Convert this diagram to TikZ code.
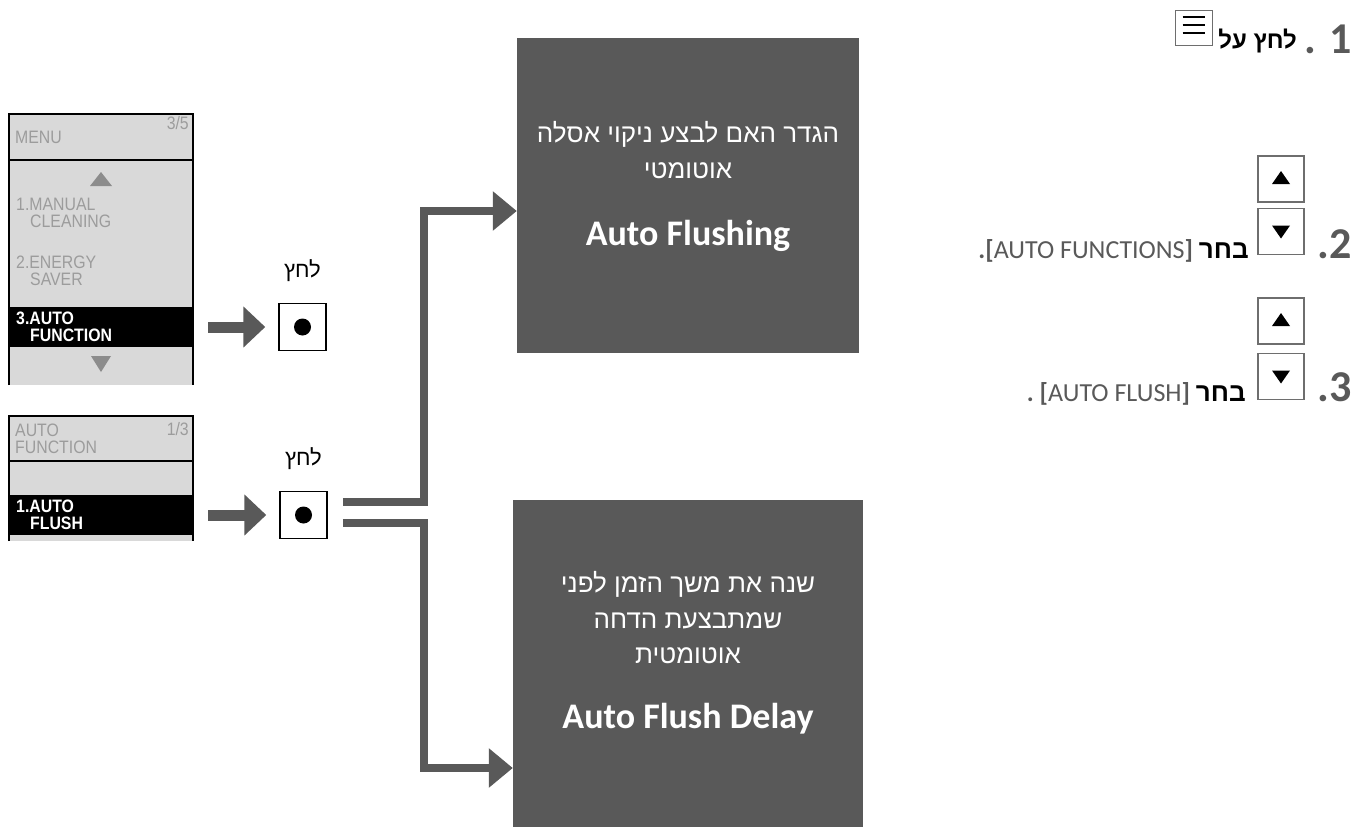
\documentclass[tikz,border=0pt]{standalone}
\usepackage{fontspec}
\setmainfont{Carlito}
\newfontfamily\hebfont[Script=Hebrew]{Liberation Sans}
\newfontfamily\lcdfont[FakeStretch=0.88]{Liberation Sans}
\TeXXeTstate=1
\usetikzlibrary{arrows.meta,positioning}
\definecolor{boxgray}{HTML}{595959}
\definecolor{lcdgray}{HTML}{D9D9D9}
\definecolor{dimtext}{HTML}{9C9C9C}
\definecolor{trigray}{HTML}{8C8C8C}
\definecolor{keygray}{HTML}{6E6E6E}

\begin{document}
\begin{tikzpicture}[x=1pt, y=-1pt,
    lcdtxt/.style={font=\lcdfont\fontsize{18}{16.5}\selectfont, text=dimtext, inner sep=0, anchor=west, align=left},
    seltxt/.style={lcdtxt, font=\lcdfont\bfseries\fontsize{18}{16.5}\selectfont, text=white},
    selbar/.style={fill=black, inner sep=0, minimum width=184, minimum height=40},
    pushbtn/.style={draw, line width=1.5pt, minimum size=47, inner sep=0},
    presslbl/.style={font=\hebfont\fontsize{22}{22}\selectfont},
    gofwd/.style={draw=boxgray, line width=11pt, -{Triangle[length=22pt,width=40pt]}},
    flow/.style={draw=boxgray, line width=8pt, miter limit=10, -{Triangle[length=24pt,width=38pt]}},
    infobox/.style={fill=boxgray, inner sep=0},
    heline/.style={font=\hebfont\fontsize{26}{26}\selectfont, text=white, anchor=base},
    titleline/.style={font=\bfseries\fontsize{36}{36}\selectfont, text=white, anchor=base},
    stepnum/.style={font=\bfseries\fontsize{44}{44}\selectfont, text=boxgray, anchor=base east, inner sep=0},
    steptxt/.style={font=\fontsize{26}{26}\selectfont, text=boxgray, anchor=base east, inner sep=0},
    keybox/.style={draw=keygray, line width=1.2pt, minimum width=46, minimum height=46, inner sep=0}]
\useasboundingbox (0,0) rectangle (1364,827);

% first screen: MENU 3/5
\fill[lcdgray] (9,114) rectangle (193,385);
\draw[line width=1.5pt] (9,385) -- (9,114) -- (193,114) -- (193,385);
\draw[line width=2pt] (9,160) -- (193,160);
\node[lcdtxt] (menuA) at (15,137) {MENU};
\node[lcdtxt, anchor=east] (pageA) at (189,123) {3/5};
\fill[trigray] (90,186) -- (112,186) -- (101,172) -- cycle;
\node[lcdtxt] (itemA) at (16,213) {1.MANUAL\\\hspace*{14pt}CLEANING};
\node[lcdtxt] (itemB) at (16,271) {2.ENERGY\\\hspace*{14pt}SAVER};
\node[selbar] (selA) at (101,327) {};
\node[seltxt] (itemC) at (16,327) {3.AUTO\\\hspace*{14pt}FUNCTION};
\fill[trigray] (91,356) -- (111,356) -- (101,372) -- cycle;

% second screen: AUTO FUNCTION 1/3
\fill[lcdgray] (9,416) rectangle (193,541);
\draw[line width=1.5pt] (9,541) -- (9,416) -- (193,416) -- (193,541);
\draw[line width=2pt] (9,461) -- (193,461);
\node[lcdtxt] (menuB) at (15,439) {AUTO\\FUNCTION};
\node[lcdtxt, anchor=east] (pageB) at (189,429) {1/3};
\node[selbar] (selB) at (101,515) {};
\node[seltxt] (itemD) at (16,515) {1.AUTO\\\hspace*{14pt}FLUSH};

% push buttons
\node[pushbtn] (btnA) at (302.5,327) {};
\node[pushbtn] (btnB) at (303.5,515) {};
\fill (btnA) circle (8.5);
\fill (btnB) circle (8.5);
\node[presslbl, above=18pt of btnA] (pressA) {\beginR לחץ\endR};
\node[presslbl, above=18pt of btnB] (pressB) {\beginR לחץ\endR};
\draw[gofwd, shorten >=13pt] ([xshift=15pt]selA.east) -- (btnA.west);
\draw[gofwd, shorten >=13pt] ([xshift=15pt]selB.east) -- (btnB.west);

% result boxes
\node[infobox, minimum width=342, minimum height=315] (boxA) at (688,195.5) {};
\node[infobox, minimum width=350, minimum height=327] (boxB) at (688,663.5) {};
\node[heline] at (688,142) {\beginR הגדר האם לבצע ניקוי אסלה\endR};
\node[heline] at (688,178) {\beginR אוטומטי\endR};
\node[titleline] at (688,245) {Auto Flushing};
\node[heline] at (688,592) {\beginR שנה את משך הזמן לפני\endR};
\node[heline] at (688,628) {\beginR שמתבצעת הדחה\endR};
\node[heline] at (688,663) {\beginR אוטומטית\endR};
\node[titleline] at (688,728) {Auto Flush Delay};

\draw[flow] ([shift={(15,-13)}]btnB.east) -- ++(81,0) |- ([yshift=-15.5pt]boxA.west);
\draw[flow] ([shift={(15,8)}]btnB.east) -- ++(81,0) |- ([yshift=-104.5pt]boxB.west);

% steps on the right
\node[stepnum] (numA) at (1352,53) {. 1};
\node[font=\hebfont\bfseries\fontsize{24}{24}\selectfont, anchor=base east, inner sep=0] (stepA) at (1297,48) {\beginR לחץ על\endR};
\node[draw=keygray, line width=1pt, minimum width=37, minimum height=35, inner sep=0] (menuKey) at (1193.5,27.5) {};
\foreach \dy in {-10.5,-2.5,5.5}
    \draw[line width=2pt] ([shift={(-11,\dy)}]menuKey.center) -- ++(22,0);

\node[keybox] (upA) at (1281,179) {};
\node[keybox] (downA) at (1281,231.5) {};
\node[keybox] (upB) at (1281,321) {};
\node[keybox] (downB) at (1281,376.5) {};
\foreach \k in {upA,upB}
    \fill (\k.center) ++(-9,5) -- ++(18,0) -- ++(-9,-13) -- cycle;
\foreach \k in {downA,downB}
    \fill (\k.center) ++(-9,-6) -- ++(18,0) -- ++(-9,13) -- cycle;
\node[stepnum] (numB) at (1352,258) {.2};
\node[stepnum] (numC) at (1352,401) {.3};
\node[steptxt] (stepB) at (1249,258) {\beginR{\hebfont\bfseries\color{black}בחר} \beginL{\bfseries[}AUTO FUNCTIONS{\bfseries]}\endL{\bfseries.}\endR};
\node[steptxt] (stepC) at (1246,401) {\beginR{\hebfont\bfseries\color{black}בחר} \beginL{\bfseries[}AUTO FLUSH{\bfseries]}\endL\ {\bfseries.}\endR};
\end{tikzpicture}
\end{document}
